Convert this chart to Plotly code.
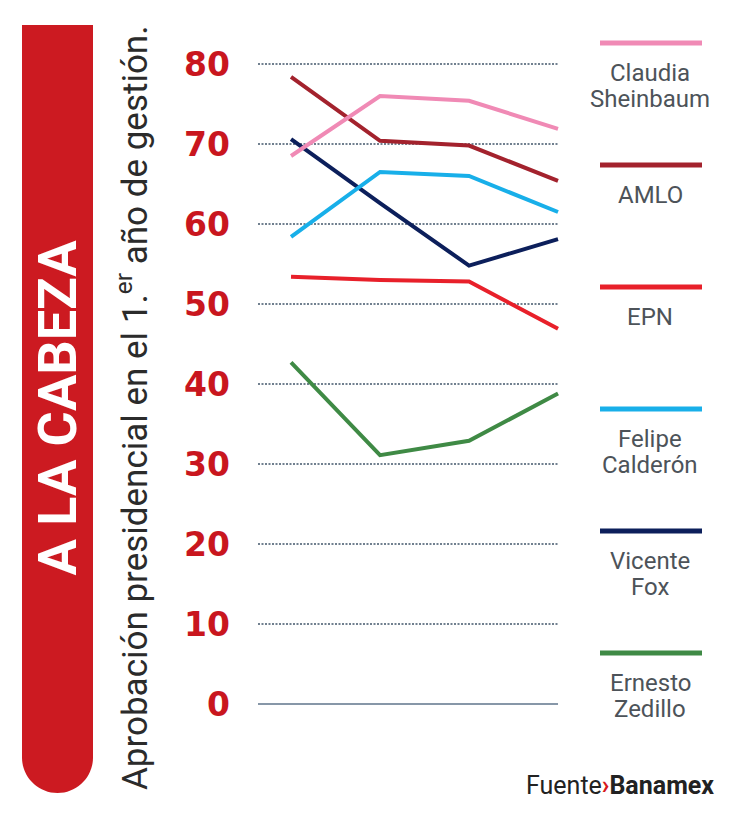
import plotly.graph_objects as go

# ---------------- data ----------------
periods = [0, 1, 2, 3]
names = ["Claudia Sheinbaum", "AMLO", "EPN", "Felipe Calderón", "Vicente Fox", "Ernesto Zedillo"]
legend_lines = [["Claudia", "Sheinbaum"], ["AMLO"], ["EPN"], ["Felipe", "Calderón"],
                ["Vicente", "Fox"], ["Ernesto", "Zedillo"]]
sheinbaum = [68.5, 76.0, 75.4, 71.9]
amlo = [78.4, 70.4, 69.8, 65.4]
epn = [53.4, 53.0, 52.8, 46.9]
calderon = [58.4, 66.5, 66.0, 61.5]
fox = [70.6, 62.6, 54.8, 58.1]
zedillo = [42.7, 31.1, 32.9, 38.8]
series = [sheinbaum, amlo, epn, calderon, fox, zedillo]
colors = ["#f08ab5", "#a3222d", "#e8202a", "#18afe9", "#0c1f5b", "#3f8a45"]
y_ticks = [0, 10, 20, 30, 40, 50, 60, 70, 80]

title_text = "A LA CABEZA"
axis_title = "Aprobación presidencial en el 1.<sup>er</sup> año de gestión."

# ---------------- layout geometry (pixels) ----------------
W, H = 750, 822
L, R, T, B = 258, 170, 30, 102
PW, PH = W - L - R, H - T - B


def px(x):
    return (x - L) / PW


def py(y):
    return (H - B - y) / PH


x_range = [-0.371, 3.247]
y_range = [-2, 84.25]

fig = go.Figure()

for name, vals, col in reversed(list(zip(names, series, colors))):
    fig.add_trace(go.Scatter(x=periods, y=vals, mode="lines", name=name,
                             line=dict(color=col, width=4), showlegend=False,
                             hoverinfo="skip", cliponaxis=False))

shapes = []
for t in y_ticks:
    shapes.append(dict(type="line", xref="x", yref="y", x0=x_range[0], x1=periods[-1],
                       y0=t, y1=t, layer="below",
                       line=dict(color="#8797a8" if t == 0 else "#71808f",
                                 width=2, dash="solid" if t == 0 else "2px,1.5px")))

# red title bar with rounded bottom
bx0, bx1, btop, bbot = 22, 93, 25, 793
r = (bx1 - bx0) / 2
cx, cy = (bx0 + bx1) / 2, bbot - r
k = 0.5523 * r
pts = [
    ("M", [(bx0, btop)]),
    ("L", [(bx1, btop)]),
    ("L", [(bx1, cy)]),
    ("C", [(bx1, cy + k), (cx + k, bbot), (cx, bbot)]),
    ("C", [(cx - k, bbot), (bx0, cy + k), (bx0, cy)]),
]
path = ""
for cmd, plist in pts:
    path += cmd + " " + " ".join(f"{px(a):.5f},{py(b):.5f}" for a, b in plist) + " "
path += "Z"
shapes.append(dict(type="path", xref="paper", yref="paper", path=path,
                   fillcolor="#cc1a21", line=dict(width=0)))

annotations = []
for i, (lines, col) in enumerate(zip(legend_lines, colors)):
    ly = 43 + i * 122
    shapes.append(dict(type="line", xref="paper", yref="paper", x0=px(600), x1=px(702),
                       y0=py(ly), y1=py(ly), line=dict(color=col, width=5)))
    for j, txt in enumerate(lines):
        annotations.append(dict(xref="paper", yref="paper", x=px(650), y=py(ly + 30 + j * 26),
                                text=txt, showarrow=False, xanchor="center", yanchor="middle",
                                font=dict(family="Roboto", size=24, color="#4d5359")))

annotations.append(dict(xref="paper", yref="paper", x=px(cx), y=py(408), text=f"<b>{title_text}</b>",
                        textangle=-90, showarrow=False, xanchor="center", yanchor="middle",
                        font=dict(family="Roboto", size=54, color="white")))
annotations.append(dict(xref="paper", yref="paper", x=px(133), y=py(408), text=axis_title,
                        textangle=-90, showarrow=False, xanchor="center", yanchor="middle",
                        font=dict(family="Roboto", size=35, color="#2b2b2b")))
annotations.append(dict(xref="paper", yref="paper", x=px(716), y=py(786),
                        text="Fuente<b><span style='color:#d71920'>›</span>Banamex</b>",
                        showarrow=False, xanchor="right", yanchor="middle",
                        font=dict(family="Roboto", size=25, color="#222222")))

fig.update_layout(
    width=W, height=H, margin=dict(l=L, r=R, t=T, b=B, autoexpand=False),
    paper_bgcolor="white", plot_bgcolor="white",
    xaxis=dict(range=x_range, visible=False, fixedrange=True),
    yaxis=dict(range=y_range, tickvals=y_ticks, showgrid=False, zeroline=False,
               showline=False, ticks="", ticklabelstandoff=27,
               tickfont=dict(family="DejaVu Sans", size=33, color="#c9161e", weight="bold")),
    shapes=shapes, annotations=annotations, showlegend=False,
)

fig.write_html("out.html")
